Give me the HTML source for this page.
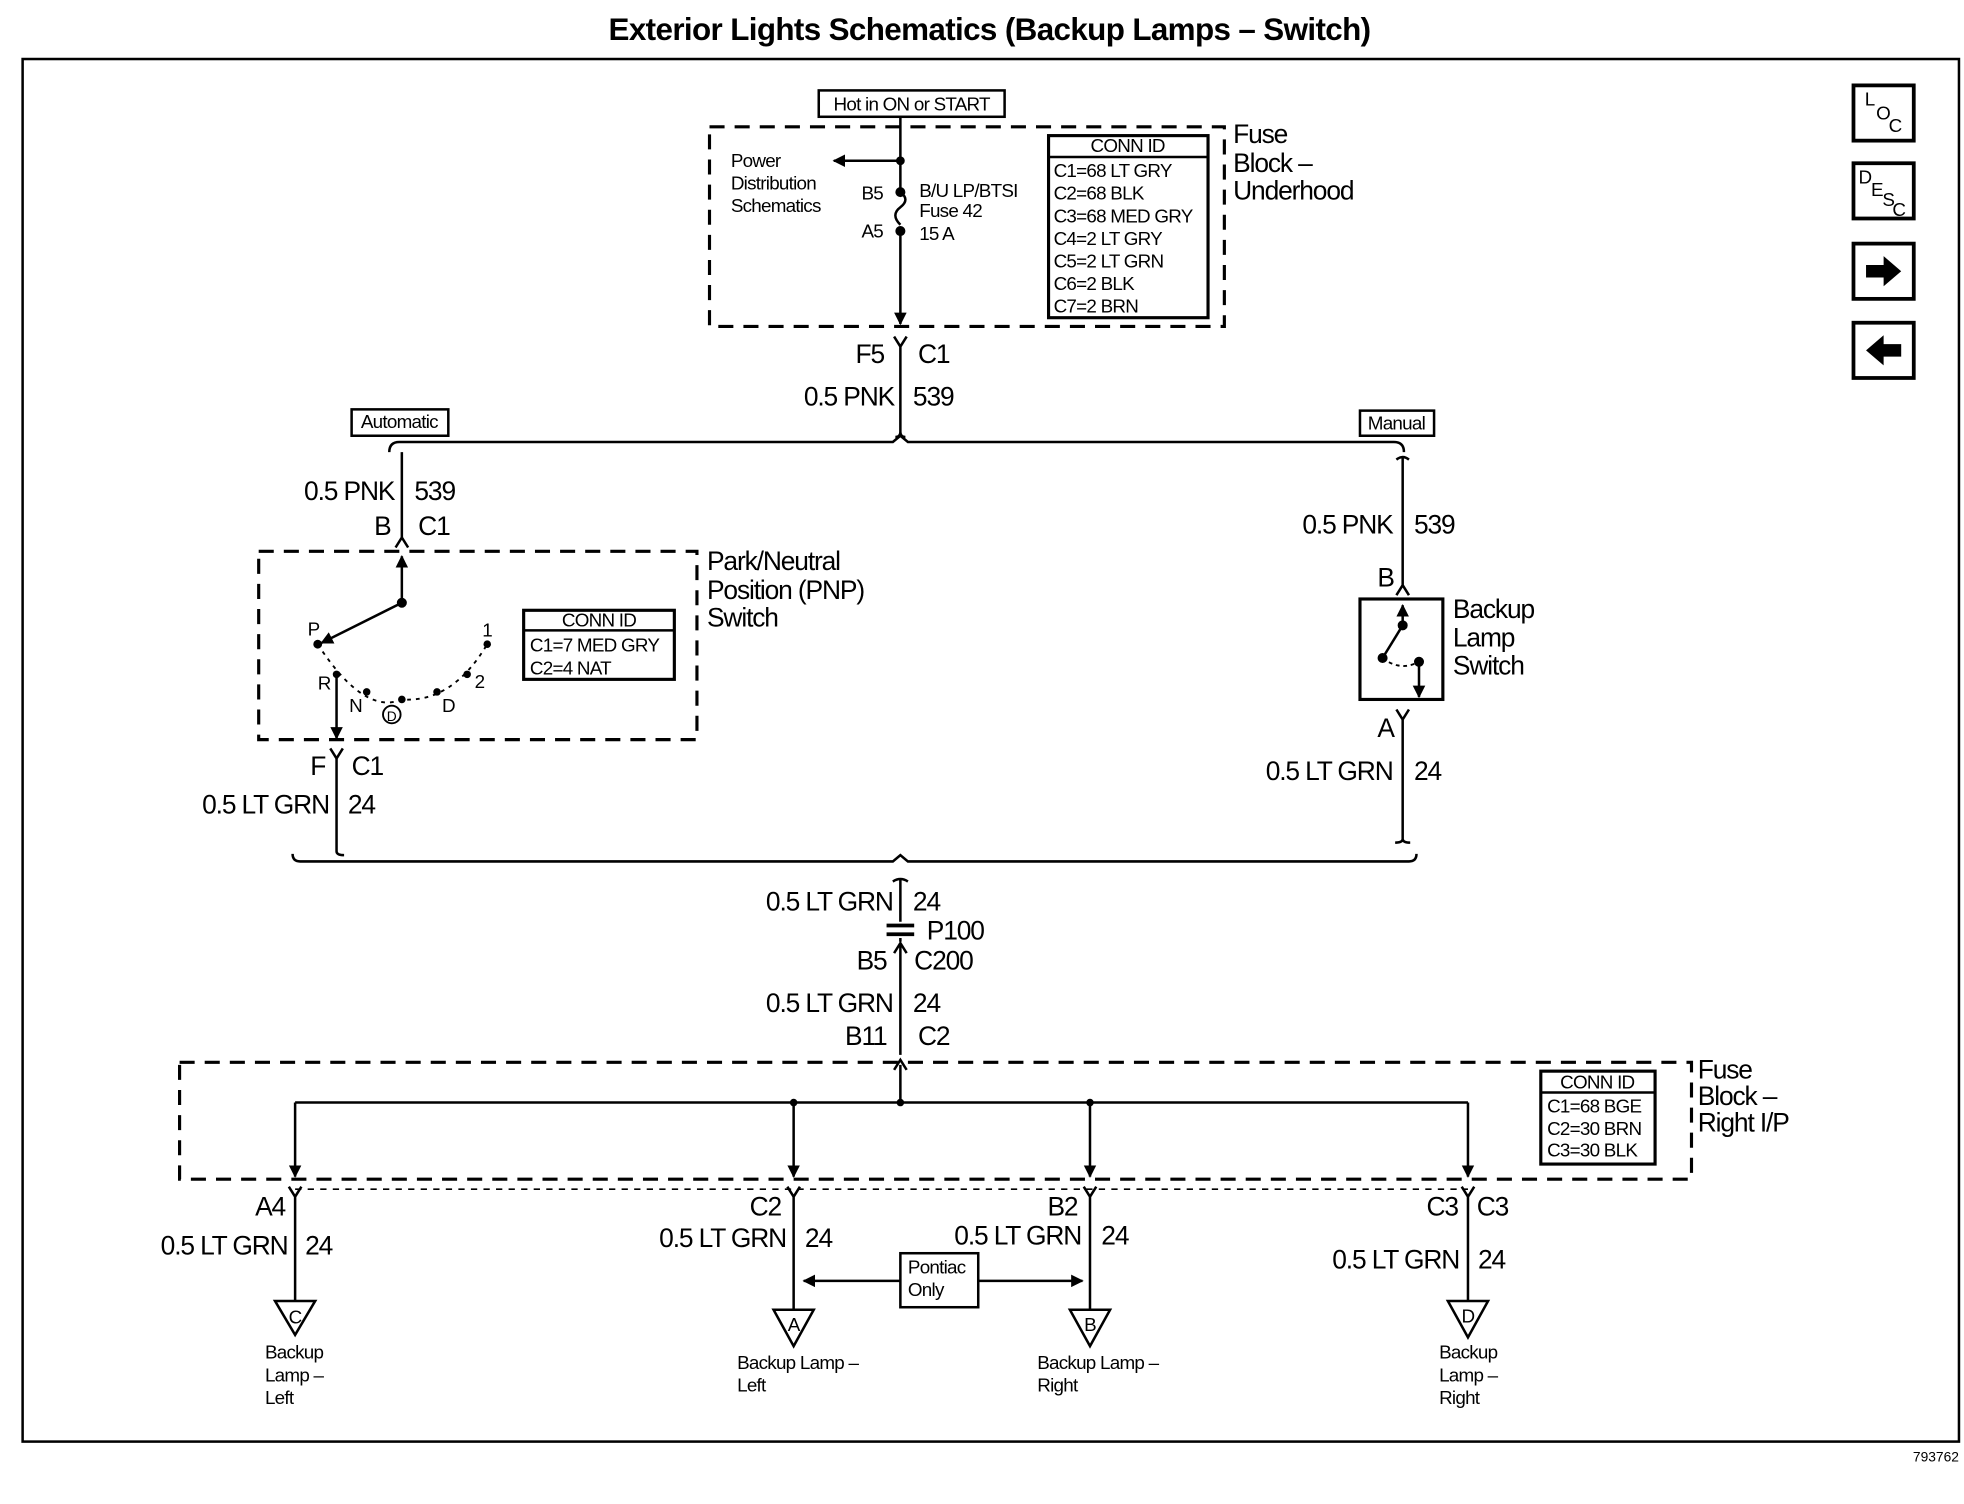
<!DOCTYPE html>
<html><head><meta charset="utf-8"><style>
html,body{margin:0;padding:0;background:#fff;}
svg{display:block;}
text{font-family:"Liberation Sans",sans-serif;fill:#000;}
.l{font-size:21px;letter-spacing:-0.9px;}
.s{font-size:15px;letter-spacing:-0.6px;}
.m{font-size:15px;letter-spacing:-0.6px;}
</style></head><body>
<svg width="1964" height="1504" viewBox="0 0 1564 1197.7" xmlns="http://www.w3.org/2000/svg">
<defs>
<marker id="ah" viewBox="0 0 10 10" refX="9" refY="5" markerWidth="5" markerHeight="5" orient="auto-start-reverse"><path d="M0,0 L10,5 L0,10 z" fill="#000"/></marker>
</defs>
<g stroke="#000" fill="none" stroke-width="2">
<text x="788" y="32" text-anchor="middle" style="font-size:25px;font-weight:bold;letter-spacing:-0.5px" stroke="none">Exterior Lights Schematics (Backup Lamps – Switch)</text>
<rect x="18" y="47" width="1542" height="1101"/>
<rect x="1476" y="68" width="48" height="44" stroke-width="3"/>
<rect x="1476" y="130" width="48" height="44" stroke-width="3"/>
<rect x="1476" y="194" width="48" height="44" stroke-width="3"/>
<rect x="1476" y="257" width="48" height="44" stroke-width="3"/>
<path d="M1486,211 h14 v-7 l14,12 l-14,12 v-7 h-14z" fill="#000" stroke="none"/>
<path d="M1514,274 h-14 v-7 l-14,12 l14,12 v-7 h14z" fill="#000" stroke="none"/>
<rect x="652" y="72" width="148" height="21"/>
<rect x="565" y="101" width="410" height="159" stroke-dasharray="12,8" stroke-width="2.5"/>
<rect x="835" y="108" width="127" height="145" stroke-width="2.5"/>
<line x1="835" y1="125" x2="962" y2="125"/>
<line x1="717" y1="93" x2="717" y2="150"/>
<line x1="717" y1="128" x2="664" y2="128" marker-end="url(#ah)"/>
<path d="M717,153 q8,6 0,12 q-8,6 0,14"/>
<line x1="717" y1="184" x2="717" y2="258" marker-end="url(#ah)"/>
<circle cx="717" cy="128" r="2.5" fill="#000"/><circle cx="717" cy="153" r="3" fill="#000"/><circle cx="717" cy="184" r="3" fill="#000"/>
<path d="M712,268 l5,8 l5,-8 M717,276 v68 q0,4 -4,4 M717,344 q0,4 4,4"/>
<path d="M310,360 q0,-8 8,-8 H711 l6,-5 l6,5 H1110 q8,0 8,8"/>
<rect x="280" y="326" width="77" height="21"/>
<rect x="1083" y="327" width="59" height="20"/>
<path d="M320,360 V428 M315,436 l5,-8 l5,8"/>
<rect x="206" y="439" width="349" height="150" stroke-dasharray="12,8" stroke-width="2.5"/>
<line x1="320" y1="480" x2="320" y2="443" marker-end="url(#ah)"/>
<line x1="320" y1="480" x2="256" y2="512" marker-end="url(#ah)"/>
<circle cx="320" cy="480" r="3" fill="#000"/>
<path d="M253,513 Q290,570 320,557 Q360,560 388,513" stroke-dasharray="3,4" stroke-width="1.5"/>
<g fill="#000" stroke="none"><circle cx="253" cy="513" r="3.5"/><circle cx="268" cy="537" r="3"/><circle cx="292" cy="551" r="3"/><circle cx="320" cy="557" r="3"/><circle cx="348" cy="551" r="3"/><circle cx="372" cy="537" r="3"/><circle cx="388" cy="513" r="3"/></g>
<line x1="268" y1="537" x2="268" y2="588" marker-end="url(#ah)"/>
<circle cx="312" cy="569" r="7" stroke-width="1.5"/>
<rect x="417" y="486" width="120" height="55" stroke-width="2.5"/>
<line x1="417" y1="502" x2="537" y2="502"/>
<path d="M263,596 l5,8 l5,-8 M268,604 V678 q0,3 6,3"/>
<path d="M1112,366 q5,-4 10,0 M1117,364 V468 M1112,474 l5,-8 l5,8"/>
<rect x="1083" y="477" width="66" height="80" stroke-width="2.5"/>
<line x1="1117" y1="498" x2="1117" y2="482" marker-end="url(#ah)"/>
<line x1="1117" y1="498" x2="1101" y2="524"/>
<circle cx="1117" cy="498" r="3" fill="#000"/><circle cx="1101" cy="524" r="3" fill="#000"/><circle cx="1130" cy="527" r="3" fill="#000"/>
<path d="M1101,524 Q1115,535 1130,527" stroke-dasharray="3,3" stroke-width="1.5"/>
<line x1="1130" y1="527" x2="1130" y2="555" marker-end="url(#ah)"/>
<path d="M1112,565 l5,8 l5,-8 M1117,573 V668 q0,3 6,3 M1117,668 q0,3 -6,3"/>
<path d="M233,680 q0,6 6,6 H711 l6,-5 l6,5 H1122 q6,0 6,-6"/>
<path d="M711,702 q6,-4 12,0 M717,700 V734"/>
<line x1="706" y1="737" x2="728" y2="737" stroke-width="3"/>
<line x1="706" y1="744" x2="728" y2="744" stroke-width="3"/>
<path d="M717,747 V750 M712,759 l5,-8 l5,8 M717,751 V840 M712,852 l5,-8 l5,8"/>
<rect x="143" y="846" width="1204" height="93" stroke-dasharray="12,8" stroke-width="2.5"/>
<rect x="1227" y="853" width="91" height="74" stroke-width="2.5"/>
<line x1="1227" y1="870" x2="1318" y2="870"/>
<line x1="717" y1="848" x2="717" y2="878"/>
<line x1="235" y1="878" x2="1169" y2="878"/>
<g fill="#000" stroke="none"><circle cx="632" cy="878" r="3"/><circle cx="717" cy="878" r="3"/><circle cx="868" cy="878" r="3"/></g>
<line x1="235" y1="878" x2="235" y2="937" marker-end="url(#ah)"/>
<line x1="632" y1="878" x2="632" y2="937" marker-end="url(#ah)"/>
<line x1="868" y1="878" x2="868" y2="937" marker-end="url(#ah)"/>
<line x1="1169" y1="878" x2="1169" y2="937" marker-end="url(#ah)"/>
<line x1="235" y1="947" x2="1169" y2="947" stroke-dasharray="5,5" stroke-width="1.2"/>
<path d="M230,945 l5,8 l5,-8 M235,953 V1036 M627,945 l5,8 l5,-8 M632,953 V1043 M863,945 l5,8 l5,-8 M868,953 V1043 M1164,945 l5,8 l5,-8 M1169,953 V1036"/>
<path d="M219,1036 h32 l-16,27z M616,1043 h32 l-16,29z M852,1043 h32 l-16,29z M1153,1036 h32 l-16,29z"/>
<rect x="717" y="998" width="62" height="43"/>
<line x1="717" y1="1020" x2="640" y2="1020" marker-end="url(#ah)"/>
<line x1="779" y1="1020" x2="862" y2="1020" marker-end="url(#ah)"/>
</g>
<g stroke="none">
<text x="1485" y="84" class="s">L</text><text x="1494" y="95" class="s">O</text><text x="1504" y="105" class="s">C</text>
<text x="1480" y="146" class="s">D</text><text x="1490" y="156" class="s">E</text><text x="1499" y="164" class="s">S</text><text x="1507" y="172" class="s">C</text>
<text x="726" y="88" text-anchor="middle" class="m">Hot in ON or START</text>
<text x="582" y="133" class="s">Power</text><text x="582" y="151" class="s">Distribution</text><text x="582" y="169" class="s">Schematics</text>
<text x="686" y="159" class="s">B5</text><text x="686" y="189" class="s">A5</text>
<text x="732" y="157" class="s">B/U LP/BTSI</text><text x="732" y="173" class="s">Fuse 42</text><text x="732" y="191" class="s">15 A</text>
<text x="898" y="121" text-anchor="middle" class="s">CONN ID</text>
<text x="839" y="141" class="s">C1=68 LT GRY</text><text x="839" y="159" class="s">C2=68 BLK</text><text x="839" y="177" class="s">C3=68 MED GRY</text><text x="839" y="195" class="s">C4=2 LT GRY</text><text x="839" y="213" class="s">C5=2 LT GRN</text><text x="839" y="231" class="s">C6=2 BLK</text><text x="839" y="249" class="s">C7=2 BRN</text>
<text x="982" y="114" class="l">Fuse</text><text x="982" y="137" class="l">Block –</text><text x="982" y="159" class="l">Underhood</text>
<text x="704" y="289" text-anchor="end" class="l">F5</text><text x="731" y="289" class="l">C1</text>
<text x="712" y="323" text-anchor="end" class="l">0.5 PNK</text><text x="727" y="323" class="l">539</text>
<text x="318" y="341" text-anchor="middle" class="s">Automatic</text>
<text x="1112" y="342" text-anchor="middle" class="s">Manual</text>
<text x="314" y="398" text-anchor="end" class="l">0.5 PNK</text><text x="330" y="398" class="l">539</text>
<text x="311" y="426" text-anchor="end" class="l">B</text><text x="333" y="426" class="l">C1</text>
<text x="563" y="454" class="l">Park/Neutral</text><text x="563" y="477" class="l">Position (PNP)</text><text x="563" y="499" class="l">Switch</text>
<text x="245" y="506" class="s">P</text><text x="384" y="507" class="s">1</text><text x="253" y="549" class="s">R</text><text x="278" y="567" class="s">N</text><text x="308" y="574" class="s" style="font-size:11px">D</text><text x="352" y="567" class="s">D</text><text x="378" y="548" class="s">2</text>
<text x="477" y="499" text-anchor="middle" class="s">CONN ID</text>
<text x="422" y="519" class="s">C1=7 MED GRY</text><text x="422" y="537" class="s">C2=4 NAT</text>
<text x="259" y="617" text-anchor="end" class="l">F</text><text x="280" y="617" class="l">C1</text>
<text x="262" y="648" text-anchor="end" class="l">0.5 LT GRN</text><text x="277" y="648" class="l">24</text>
<text x="1109" y="425" text-anchor="end" class="l">0.5 PNK</text><text x="1126" y="425" class="l">539</text>
<text x="1110" y="467" text-anchor="end" class="l">B</text>
<text x="1157" y="492" class="l">Backup</text><text x="1157" y="515" class="l">Lamp</text><text x="1157" y="537" class="l">Switch</text>
<text x="1110" y="587" text-anchor="end" class="l">A</text>
<text x="1109" y="621" text-anchor="end" class="l">0.5 LT GRN</text><text x="1126" y="621" class="l">24</text>
<text x="711" y="725" text-anchor="end" class="l">0.5 LT GRN</text><text x="727" y="725" class="l">24</text>
<text x="738" y="748" class="l">P100</text>
<text x="706" y="772" text-anchor="end" class="l">B5</text><text x="728" y="772" class="l">C200</text>
<text x="711" y="806" text-anchor="end" class="l">0.5 LT GRN</text><text x="727" y="806" class="l">24</text>
<text x="706" y="832" text-anchor="end" class="l">B11</text><text x="731" y="832" class="l">C2</text>
<text x="1352" y="859" class="l">Fuse</text><text x="1352" y="880" class="l">Block –</text><text x="1352" y="901" class="l">Right I/P</text>
<text x="1272" y="867" text-anchor="middle" class="s">CONN ID</text>
<text x="1232" y="886" class="s">C1=68 BGE</text><text x="1232" y="904" class="s">C2=30 BRN</text><text x="1232" y="921" class="s">C3=30 BLK</text>
<text x="227" y="968" text-anchor="end" class="l">A4</text>
<text x="622" y="968" text-anchor="end" class="l">C2</text>
<text x="858" y="968" text-anchor="end" class="l">B2</text>
<text x="1161" y="968" text-anchor="end" class="l">C3</text><text x="1176" y="968" class="l">C3</text>
<text x="229" y="999" text-anchor="end" class="l">0.5 LT GRN</text><text x="243" y="999" class="l">24</text>
<text x="626" y="993" text-anchor="end" class="l">0.5 LT GRN</text><text x="641" y="993" class="l">24</text>
<text x="861" y="991" text-anchor="end" class="l">0.5 LT GRN</text><text x="877" y="991" class="l">24</text>
<text x="1162" y="1010" text-anchor="end" class="l">0.5 LT GRN</text><text x="1177" y="1010" class="l">24</text>
<text x="723" y="1014" class="s">Pontiac</text><text x="723" y="1032" class="s">Only</text>
<text x="235" y="1054" text-anchor="middle" class="s">C</text><text x="632" y="1060" text-anchor="middle" class="s">A</text><text x="868" y="1060" text-anchor="middle" class="s">B</text><text x="1169" y="1053" text-anchor="middle" class="s">D</text>
<text x="211" y="1082" class="s">Backup</text><text x="211" y="1100" class="s">Lamp –</text><text x="211" y="1118" class="s">Left</text>
<text x="587" y="1090" class="s">Backup Lamp –</text><text x="587" y="1108" class="s">Left</text>
<text x="826" y="1090" class="s">Backup Lamp –</text><text x="826" y="1108" class="s">Right</text>
<text x="1146" y="1082" class="s">Backup</text><text x="1146" y="1100" class="s">Lamp –</text><text x="1146" y="1118" class="s">Right</text>
<text x="1560" y="1164" text-anchor="end" style="font-size:11px">793762</text>
</g>
</svg>
</body></html>
